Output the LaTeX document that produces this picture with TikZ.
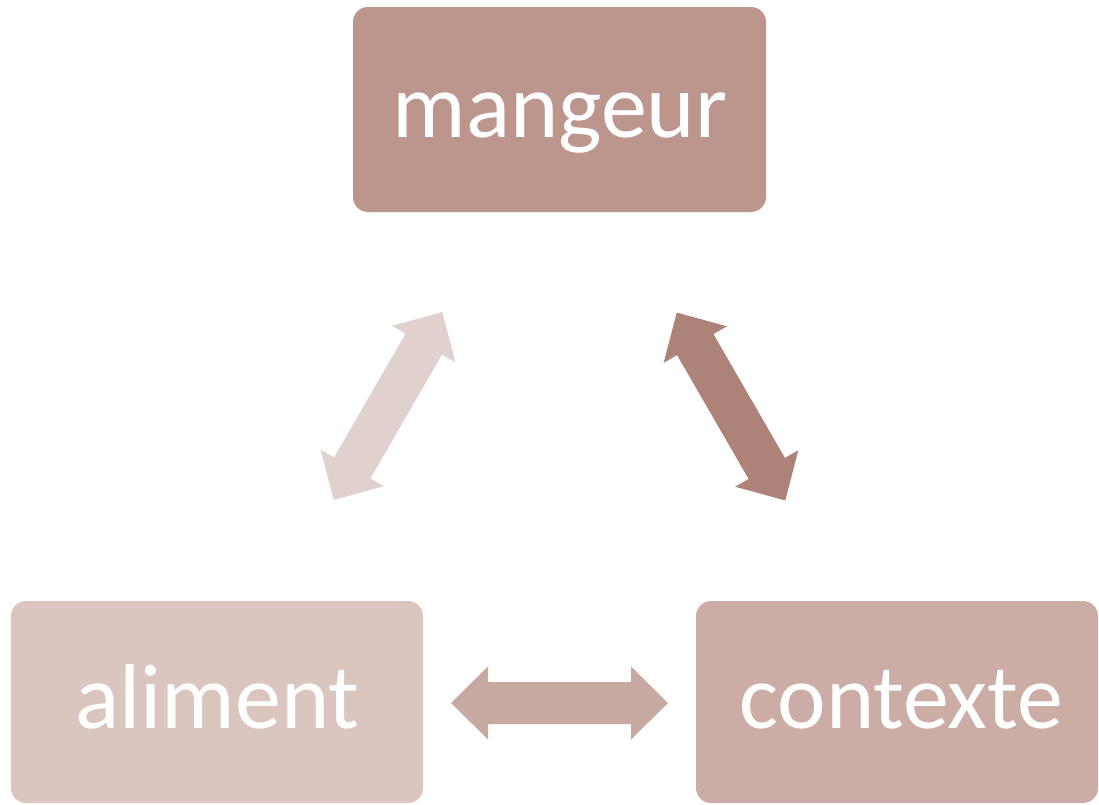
\documentclass[tikz,border=0pt]{standalone}
\usepackage{fontspec}
\setmainfont{Carlito}
\definecolor{cMang}{RGB}{188,149,140}
\definecolor{cAlim}{RGB}{219,197,191}
\definecolor{cCont}{RGB}{203,173,165}
\definecolor{cArrL}{RGB}{224,209,206}
\definecolor{cArrR}{RGB}{173,131,121}
\definecolor{cArrH}{RGB}{198,169,161}
\newcommand\dblarrowshape[4]{%
  \fill[#4, shift={(#1,#2)}, rotate=#3]
    (-108.5,0) -- (-71.5,36.5) -- (-71.5,21) -- (71.5,21) -- (71.5,36.5)
    -- (108.5,0) -- (71.5,-36.5) -- (71.5,-21) -- (-71.5,-21) -- (-71.5,-36.5) -- cycle;}
\tikzset{
  box/.style={rectangle, rounded corners=15pt, inner sep=0pt, draw=none},
  lbl/.style={anchor=base, inner sep=0pt, text=white, font=\fontsize{92}{106}\selectfont}
}
\begin{document}
\begin{tikzpicture}[x=1pt, y=-1pt]
\useasboundingbox (0,0) rectangle (1099,804);
% boxes
\node[box, fill=cMang, minimum width=413pt, minimum height=205pt] (mangeur) at (559.5,109.5) {};
\node[box, fill=cAlim, minimum width=412pt, minimum height=202pt] (aliment) at (217,702) {};
\node[box, fill=cCont, minimum width=402pt, minimum height=202pt] (contexte) at (897,702) {};
% labels
\node[lbl] (tmang) at (560,137) {mangeur};
\node[lbl] (talim) at (217.5,728) {aliment};
\node[lbl] (tcont) at (901.5,728) {contexte};
% arrows
\dblarrowshape{388}{406}{60}{cArrL}
\dblarrowshape{731}{406.5}{-60}{cArrR}
\dblarrowshape{559.5}{703}{0}{cArrH}
\end{tikzpicture}
\end{document}
